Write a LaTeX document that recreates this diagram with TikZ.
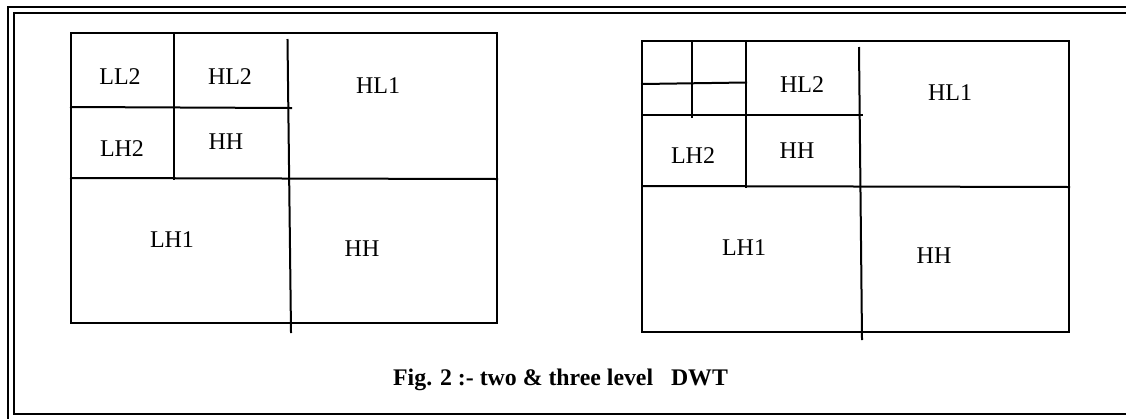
\documentclass[tikz,border=0pt]{standalone}
\usepackage{fontspec}
\setmainfont{Liberation Serif}
\begin{document}
\begin{tikzpicture}[x=1pt,y=-1pt,
  grid/.style={line width=2pt, line cap=rect},
  frame/.style={line width=2.2pt},
  lbl/.style={inner sep=0pt, font=\fontsize{24}{28}\selectfont},
  figcaption/.style={inner sep=0pt, font=\fontsize{23.8}{28}\selectfont\bfseries}]
\useasboundingbox (0,0) rectangle (1126,418);
\clip (0,0) rectangle (1126,418);

% double frame round the figure
\draw[frame] (8,7) rectangle (1140,430);
\draw[frame] (14,13) rectangle (1134,414);

% ---- two-level decomposition ----
\draw[grid] (71,33) rectangle (497,323);
\draw[grid] (174,33) -- (174,179);
\draw[grid] (71,107) -- (291,108);
\draw[grid] (71,178) -- (497,179);
\draw[grid] (287.5,40) -- (291,332);

\node[lbl] (ll2a) at (120,77) {LL2};
\node[lbl] (hl2a) at (230,77) {HL2};
\node[lbl] (hl1a) at (378,86) {HL1};
\node[lbl] (lh2a) at (122,149) {LH2};
\node[lbl] (hh2a) at (226,142) {HH};
\node[lbl] (lh1a) at (172,240) {LH1};
\node[lbl] (hh1a) at (362,249) {HH};

% ---- three-level decomposition ----
\draw[grid] (642,41) rectangle (1069,332);
\draw[grid] (692,41) -- (692,117);
\draw[grid] (642,84) -- (746,82.5);
\draw[grid] (746,41) -- (746,187);
\draw[grid] (642,115) -- (862,115);
\draw[grid] (642,186) -- (1069,187);
\draw[grid] (859,48) -- (862,339);

\node[lbl] (hl2b) at (802,85) {HL2};
\node[lbl] (hl1b) at (950,93) {HL1};
\node[lbl] (lh2b) at (693,156) {LH2};
\node[lbl] (hh2b) at (797,151) {HH};
\node[lbl] (lh1b) at (744,248) {LH1};
\node[lbl] (hh1b) at (934,256) {HH};

% caption
\node[figcaption, anchor=base west] (caption) at (393,385) {Fig. 2 :- two \& three level\ \ \ DWT};
\end{tikzpicture}
\end{document}
